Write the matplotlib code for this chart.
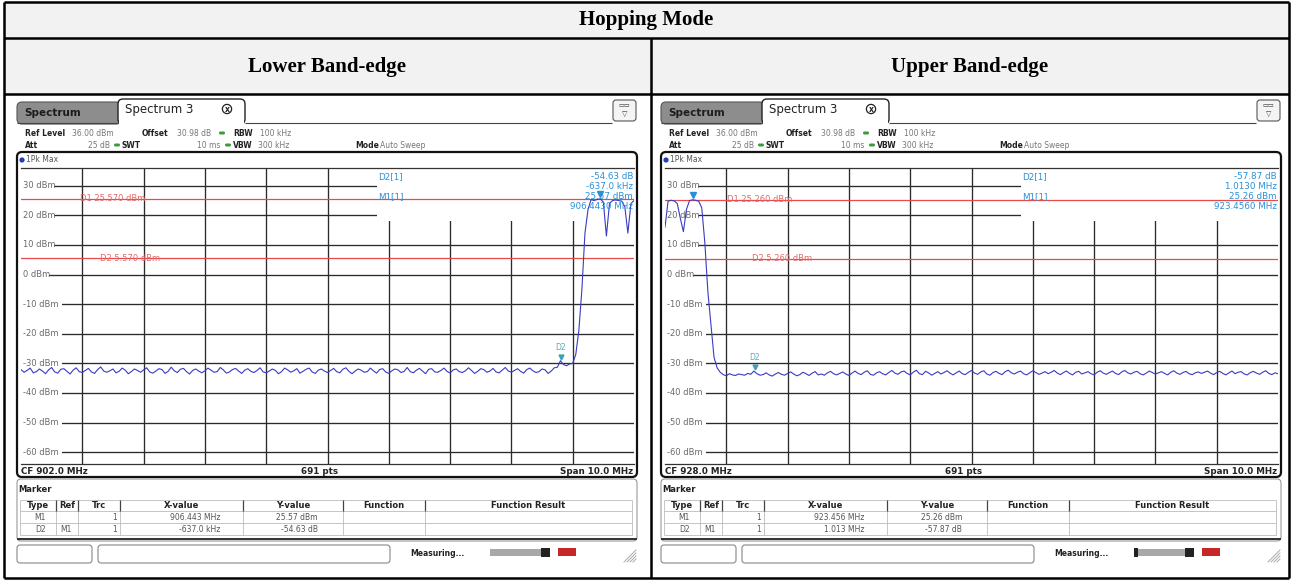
import numpy as np
import matplotlib
matplotlib.use("Agg")
import matplotlib.pyplot as plt
from matplotlib.patches import Rectangle, FancyBboxPatch, Circle

W, H = 1292, 581

# ---------------- data ----------------
title = "Hopping Mode"
panel_titles = ["Lower Band-edge", "Upper Band-edge"]
center_freqs = [902.0, 928.0]          # MHz
span_mhz = 10.0
ref_level = 36.0
range_db = 100.0
y_ticks = [30, 20, 10, 0, -10, -20, -30, -40, -50, -60]
n_trace = 201                          # one value every 0.05 MHz
sweep_points = 691

d1_levels = [25.57, 25.26]
d2_levels = [5.57, 5.26]
m1_freqs = [906.443, 923.456]
m1_levels = [25.57, 25.26]
d2_offsets_mhz = [-0.637, 1.013]
d2_deltas = [-54.63, -57.87]
marker_info = [["-54.63 dB", "-637.0 kHz", "25.57 dBm", "906.4430 MHz"],
               ["-57.87 dB", "1.0130 MHz", "25.26 dBm", "923.4560 MHz"]]
marker_rows = [[["M1", "", "1", "906.443 MHz", "25.57 dBm"],
                ["D2", "M1", "1", "-637.0 kHz", "-54.63 dB"]],
               [["M1", "", "1", "923.456 MHz", "25.26 dBm"],
                ["D2", "M1", "1", "1.013 MHz", "-57.87 dB"]]]
table_headers = ["Type", "Ref", "Trc", "X-value", "Y-value", "Function", "Function Result"]

# lower band-edge trace: 897.0 .. 905.95 MHz noise floor, then the hopping channels
lower_noise = [
    -32.1, -33.0, -32.4, -31.6, -33.2, -32.8, -31.9, -32.6, -33.5, -32.2, -31.4, -32.9, -33.3, -32.0, -31.8, -32.7, -33.6, -32.3, -31.5, -32.8,
    -33.1, -32.4, -31.7, -32.9, -33.4, -32.1, -31.2, -32.6, -33.0, -32.5, -31.9, -33.2, -32.7, -31.6, -32.3, -33.5, -32.8, -31.9, -32.4, -33.0,
    -32.2, -31.5, -32.9, -33.3, -32.6, -31.8, -32.1, -33.4, -32.7, -31.3, -32.5, -33.1, -32.0, -31.7, -32.8, -33.6, -32.4, -31.9, -32.6, -33.2,
    -32.5, -31.6, -32.3, -33.0, -32.8, -31.4, -32.2, -33.3, -32.9, -32.1, -31.7, -32.6, -33.4, -32.3, -31.8, -32.7, -33.1, -32.4, -31.5, -32.9,
    -33.2, -32.6, -31.9, -32.4, -33.5, -32.8, -31.6, -32.2, -33.0, -32.5, -31.8, -33.3, -32.7, -32.0, -31.6, -32.9, -33.4, -32.3, -31.9, -32.6,
    -33.1, -32.4, -31.7, -32.8, -33.2, -32.0, -31.5, -32.7, -33.5, -32.6, -31.9, -32.3, -33.0, -32.8, -31.6, -32.5, -33.3, -32.1, -31.8, -32.9,
    -33.4, -32.5, -31.9, -32.2, -33.1, -32.7, -31.4, -32.8, -33.2, -32.3, -31.7, -32.6, -33.5, -32.0, -31.8, -32.9, -33.0, -32.4, -31.6, -32.7,
    -33.3, -32.2, -31.9, -32.8, -33.1, -32.5, -31.5, -32.4, -33.4, -32.7, -31.8, -32.1, -33.0, -32.6, -31.7, -32.9, -33.2, -32.3, -31.4, -32.6,
    -33.0, -32.4, -31.8, -32.7, -33.3, -32.1, -31.6, -32.5, -33.1, -32.8, -31.9, -32.2, -33.4, -32.6, -31.5, -31.3, -29.1, -30.4, -30.8, -30.2,
]
lower_signal = [-30.0, -27.0, -19.0, -5.0, 14.0, 22.0, 25.3, 25.0, 25.4, 25.57, 24.5,
                13.0, 24.0, 25.0, 25.2, 25.0, 24.8, 23.0, 14.0, 24.0, 25.0]

# upper band-edge trace: hopping channels 923.0 .. 923.85 MHz, then the noise floor
upper_signal = [16.0, 24.8, 25.1, 24.9, 24.0, 19.0, 14.5, 22.0, 25.0, 25.26, 25.1, 24.8,
                22.5, 10.7, -6.0, -17.0, -28.0, -31.5]
upper_noise = [
    -33.0, -33.8, -34.2, -33.5, -33.9, -34.1, -33.6, -33.8, -34.0, -33.4, -33.7, -32.6, -33.5, -34.0, -33.8, -33.2, -33.9, -34.3, -33.6, -33.1,
    -33.7, -34.0, -33.4, -32.9, -33.6, -34.2, -33.8, -33.0, -33.5, -34.1, -33.3, -32.8, -33.9, -33.6, -34.0, -33.2, -32.7, -33.5, -33.9, -33.4,
    -32.9, -33.6, -34.1, -33.3, -32.6, -33.4, -33.8, -33.0, -32.5, -33.7, -34.0, -33.2, -32.8, -33.5, -33.9, -33.1, -32.4, -33.3, -33.7, -32.9,
    -32.6, -33.4, -33.9, -33.0, -32.3, -33.5, -33.8, -32.7, -33.2, -34.0, -33.4, -32.8, -33.6, -33.1, -32.5, -33.3, -33.9, -33.2, -32.6, -33.5,
    -33.8, -33.0, -32.4, -33.3, -33.7, -32.9, -32.5, -33.6, -34.0, -33.1, -32.7, -33.4, -33.8, -32.8, -32.3, -33.2, -33.6, -33.0, -32.6, -33.5,
    -33.9, -33.2, -32.5, -33.1, -33.7, -33.3, -32.8, -33.5, -33.0, -32.4, -33.3, -33.8, -33.1, -32.6, -33.4, -33.9, -33.0, -32.7, -33.6, -33.2,
    -32.8, -33.5, -33.9, -33.0, -32.5, -33.3, -33.7, -33.1, -32.6, -33.4, -33.8, -32.9, -32.4, -33.2, -33.6, -33.0, -32.7, -33.5, -33.9, -33.3,
    -32.6, -33.1, -33.6, -33.2, -32.8, -33.4, -33.9, -33.0, -32.5, -33.3, -33.7, -33.1, -32.7, -33.5, -33.8, -33.2, -32.9, -33.4, -33.0, -32.6,
    -33.3, -33.8, -33.1, -32.7, -33.4, -33.9, -33.2, -32.6, -33.5, -33.0, -32.8, -33.6, -33.9, -33.1, -32.7, -33.3, -33.7, -33.0, -32.5, -33.4,
    -33.8, -33.2, -33.5,
]
traces = [lower_noise + lower_signal, upper_signal + upper_noise]

# ---------------- figure ----------------
fig = plt.figure(figsize=(W / 100, H / 100), dpi=100)
bg = fig.add_axes([0, 0, 1, 1], zorder=0)
bg.set_xlim(0, W)
bg.set_ylim(H, 0)
bg.axis("off")

SANS = "DejaVu Sans"
TRACE = "#3b3bc4"
RED = "#e84a4a"
MKBLUE = "#2a8fd6"


def txt(x, y, s, size=6, color="#222222", weight="normal", ha="left", va="center", **kw):
    bg.text(x, y, s, fontsize=size, color=color, fontweight=weight, ha=ha, va=va,
            family=SANS, **kw)


def hline(x0, x1, y, lw=1.0, color="#000000", z=2):
    bg.plot([x0, x1], [y, y], color=color, lw=lw, zorder=z, solid_capstyle="butt")


def vline(x, y0, y1, lw=1.0, color="#000000", z=2):
    bg.plot([x, x], [y0, y1], color=color, lw=lw, zorder=z, solid_capstyle="butt")


# table frame
bg.add_patch(Rectangle((4, 2), 1285, 92, fc="#f2f2f2", ec="none", zorder=0))
for y in (2, 38, 94, 578):
    hline(4, 1289, y, lw=1.8)
vline(4, 2, 578, lw=1.8)
vline(1289, 2, 578, lw=1.8)
vline(651, 38, 578, lw=1.8)
bg.text(646, 20, title, ha="center", va="center", fontsize=15, fontweight="bold",
        family="Liberation Serif")
for cx, s in zip((327, 970), panel_titles):
    bg.text(cx, 67, s, ha="center", va="center", fontsize=15, fontweight="bold",
            family="Liberation Serif")


def draw_panel(p, dx):
    f0 = center_freqs[p] - span_mhz / 2
    f1 = center_freqs[p] + span_mhz / 2
    X = lambda v: v + dx

    # tabs
    bg.add_patch(FancyBboxPatch((X(17), 102), 104, 22, boxstyle="round,pad=0,rounding_size=5",
                                fc="#8d8d8d", ec="#555555", lw=0.8, zorder=1))
    txt(X(24), 113, "Spectrum", size=7.5, weight="bold", color="#1c1c1c")
    bg.add_patch(FancyBboxPatch((X(118), 99), 127, 25, boxstyle="round,pad=0,rounding_size=5",
                                fc="white", ec="#222222", lw=1.0, zorder=2))
    bg.add_patch(Rectangle((X(119), 120), 125, 5, fc="white", ec="none", zorder=3))
    txt(X(125), 110, "Spectrum 3", size=8.5, color="#222222", zorder=4)
    bg.add_patch(Circle((X(227), 109), 4.6, fc="white", ec="#222222", lw=0.9, zorder=4))
    txt(X(227), 109.3, "x", size=5.5, weight="bold", ha="center", zorder=5)
    hline(X(17), X(118), 123, lw=0.8, color="#444444")
    hline(X(245), X(612), 123, lw=0.8, color="#444444")
    bg.add_patch(FancyBboxPatch((X(613), 100), 23, 21, boxstyle="round,pad=0,rounding_size=3",
                                fc="#f4f4f4", ec="#555555", lw=0.8, zorder=2))
    txt(X(624.5), 106, "▭▭", size=4.5, ha="center", color="#333333", zorder=3)
    txt(X(624.5), 114, "▽", size=5, ha="center", color="#333333", zorder=3)

    # setting lines
    y1, y2 = 133, 145
    txt(X(25), y1, "Ref Level", size=5.5, weight="bold")
    txt(X(72), y1, "36.00 dBm", size=5.5, color="#777777")
    txt(X(142), y1, "Offset", size=5.5, weight="bold")
    txt(X(177), y1, "30.98 dB", size=5.5, color="#777777")
    txt(X(233), y1, "RBW", size=5.5, weight="bold")
    txt(X(260), y1, "100 kHz", size=5.5, color="#777777")
    txt(X(25), y2, "Att", size=5.5, weight="bold")
    txt(X(110), y2, "25 dB", size=5.5, color="#777777", ha="right")
    txt(X(122), y2, "SWT", size=5.5, weight="bold")
    txt(X(220), y2, "10 ms", size=5.5, color="#777777", ha="right")
    txt(X(233), y2, "VBW", size=5.5, weight="bold")
    txt(X(258), y2, "300 kHz", size=5.5, color="#777777")
    txt(X(355), y2, "Mode", size=5.5, weight="bold")
    txt(X(380), y2, "Auto Sweep", size=5.5, color="#777777")
    for gx, gy in ((222, y1), (117, y2), (228, y2)):
        bg.add_patch(FancyBboxPatch((X(gx) - 3, gy - 1.5), 6, 3, boxstyle="round,pad=0,rounding_size=1.5",
                                    fc="#3c9a3c", ec="none", zorder=3))

    # diagram frame
    bg.add_patch(FancyBboxPatch((X(17), 152), 620, 325, boxstyle="round,pad=0,rounding_size=5",
                                fc="white", ec="#111111", lw=1.6, zorder=1))
    bg.add_patch(Circle((X(22), 160), 2.6, fc="#1d3fb8", ec="none", zorder=3))
    txt(X(26), 160, "1Pk Max", size=5.5, color="#555555")
    txt(X(21), 471, f"CF {center_freqs[p]:.1f} MHz", size=6.3, weight="bold")
    txt(X(320), 471, f"{sweep_points} pts", size=6.3, weight="bold", ha="center")
    txt(X(633), 471, f"Span {span_mhz:.1f} MHz", size=6.3, weight="bold", ha="right")

    # marker table
    bg.add_patch(FancyBboxPatch((X(17), 479), 620, 62, boxstyle="round,pad=0,rounding_size=4",
                                fc="white", ec="#999999", lw=0.8, zorder=1))
    txt(X(18), 490, "Marker", size=6, weight="bold")
    cols = [20, 56, 78, 120, 243, 343, 425, 632]
    for y in (500, 511, 523, 535):
        hline(X(20), X(632), y, lw=0.6, color="#bbbbbb")
    for cx in cols:
        vline(X(cx), 500, 535, lw=0.6, color="#bbbbbb")
    for cx in cols[1:-1]:
        vline(X(cx), 500, 511, lw=0.9, color="#444444")
    hline(X(17), X(637), 539, lw=1.4, color="#333333")
    for i, hd in enumerate(table_headers):
        txt(X((cols[i] + cols[i + 1]) / 2), 505.5, hd, size=6, weight="bold", ha="center")
    for r, row in enumerate(marker_rows[p]):
        yy = 517 + 12 * r
        txt(X(46), yy, row[0], size=5.5, color="#555555", ha="right")
        txt(X(72), yy, row[1], size=5.5, color="#555555", ha="right")
        txt(X(117), yy, row[2], size=5.5, color="#555555", ha="right")
        txt(X(220), yy, row[3], size=5.5, color="#555555", ha="right")
        txt(X(318), yy, row[4], size=5.5, color="#555555", ha="right")

    # status bar
    bg.add_patch(FancyBboxPatch((X(17), 545), 75, 18, boxstyle="round,pad=0,rounding_size=3",
                                fc="white", ec="#888888", lw=0.8, zorder=1))
    bg.add_patch(FancyBboxPatch((X(98), 545), 292, 18, boxstyle="round,pad=0,rounding_size=3",
                                fc="white", ec="#888888", lw=0.8, zorder=1))
    txt(X(410), 553, "Measuring...", size=5.5, weight="bold")
    bg.add_patch(Rectangle((X(490), 549), 60, 7, fc="#a8a8a8", ec="none", zorder=2))
    bg.add_patch(Rectangle((X(541), 548), 9, 9, fc="#222222", ec="none", zorder=3))
    if p == 1:
        bg.add_patch(Rectangle((X(490), 548), 4, 9, fc="#222222", ec="none", zorder=3))
    bg.add_patch(Rectangle((X(558), 548), 18, 8, fc="#c62828", ec="none", zorder=2))
    for k in range(4):
        bg.plot([X(624 + 3 * k), X(636)], [562, 550 + 3 * k], color="#aaaaaa", lw=0.7, zorder=2)

    # ---- spectrum diagram ----
    L, R, T, B = 21 + dx, 634 + dx, 168, 464
    ax = fig.add_axes([L / W, 1 - B / H, (R - L) / W, (B - T) / H], zorder=2)
    ax.set_xlim(f0, f1)
    ax.set_ylim(ref_level - range_db, ref_level)
    ax.set_xticks(np.arange(f0 + 1, f1, 1.0))
    ax.set_yticks(y_ticks)
    ax.tick_params(length=0, labelbottom=False, labelleft=False)
    ax.grid(True, color="#2b2b2b", lw=0.95)
    ax.set_axisbelow(True)
    for s in ax.spines.values():
        s.set_color("#333333")
        s.set_linewidth(0.9)
    ax.spines["left"].set_visible(False)
    ax.spines["right"].set_visible(False)

    fx = lambda px: f0 + (px - 21) * span_mhz / (634 - 21)
    ly = lambda py: ref_level - (py - 168) * range_db / (464 - 168)

    # marker info field (white) hides the grid
    ax.add_patch(Rectangle((fx(377), ly(221)), f1 - fx(377), ref_level - ly(221),
                           fc="white", ec="none", zorder=1))
    # level tick labels, drawn on a white ground that hides the grid start
    for v in y_ticks:
        ax.add_patch(Rectangle((f0, v - 1.6), fx(23 + (5.2 if v >= 0 else 5.6) * len(f"{v} dBm")) - f0, 3.2,
                               fc="white", ec="none", zorder=1.5))
        ax.text(fx(23), v, f"{v} dBm", fontsize=6, color="#6a6a6a", va="center", ha="left",
                family=SANS, zorder=2)

    # display lines
    ax.axhline(d1_levels[p], color=RED, lw=0.9, zorder=2)
    ax.axhline(d2_levels[p], color=RED, lw=0.9, zorder=2)
    ax.text(fx(80 if p == 0 else 83), d1_levels[p], f"D1 {d1_levels[p]:.3f} dBm", fontsize=6,
            color="#e06a6a", va="center", family=SANS, zorder=2)
    ax.text(fx(100 if p == 0 else 108), d2_levels[p], f"D2 {d2_levels[p]:.3f} dBm", fontsize=6,
            color="#e06a6a", va="center", family=SANS, zorder=2)

    # trace
    freqs = np.linspace(f0, f1, n_trace)
    ax.plot(freqs, traces[p], color=TRACE, lw=0.8, zorder=3)

    # markers
    ax.plot([m1_freqs[p]], [m1_levels[p] + 1.6], marker="v", ms=4.5, color=MKBLUE, zorder=5,
            ls="none")
    d2f = m1_freqs[p] + d2_offsets_mhz[p]
    d2l = m1_levels[p] + d2_deltas[p]
    ax.plot([d2f], [d2l + 1.3], marker="v", ms=3.5, color="#3aa0b8", zorder=5, ls="none")
    ax.text(d2f, d2l + 4.5, "D2", fontsize=5.5, color="#5aaab5", ha="center", va="center",
            family=SANS, zorder=5)

    # marker info field text
    ax.text(fx(378), ly(177), "D2[1]", fontsize=6.3, color=MKBLUE, va="center", family=SANS, zorder=4)
    ax.text(fx(378), ly(197), "M1[1]", fontsize=6.3, color=MKBLUE, va="center", family=SANS, zorder=4)
    for k, s in enumerate(marker_info[p]):
        ax.text(fx(633), ly(177 + 10 * k), s, fontsize=6.3, color=MKBLUE, va="center", ha="right",
                family=SANS, zorder=4)


draw_panel(0, 0)
draw_panel(1, 644)

fig.savefig("out.png", dpi=100)
